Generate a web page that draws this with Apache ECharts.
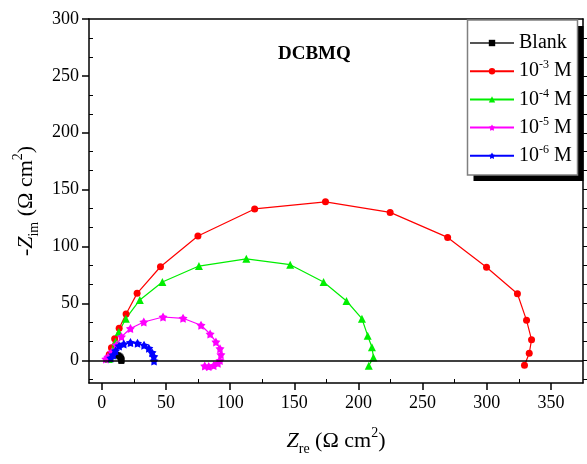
<!DOCTYPE html>
<html>
<head>
<meta charset="utf-8">
<script src="https://cdn.jsdelivr.net/npm/echarts@6/dist/echarts.min.js"></script>
<style>html,body{margin:0;padding:0;background:#fff}#c{width:587px;height:464px}</style>
</head>
<body>
<div id="c"></div>
<script>
// ---- data (Zre, -Zim) in ohm cm^2 ----
const seriesNames = ['Blank', '10-3 M', '10-4 M', '10-5 M', '10-6 M'];
const blankData = [[5,0.5],[5.5,1.5],[6.3,2.5],[7.3,3.5],[8.6,4.2],[10,4.6],[11.5,4.6],[12.8,4.2],[13.8,3.4],[14.6,2.4],[15.1,1.2],[15.3,0.2],[15.2,-0.6]];
const m3Data = [[5,1],[5.8,5],[7.5,11],[10,19],[13.5,28.1],[18.9,40.7],[27.5,58.8],[45.7,82.2],[74.9,109.2],[119.1,133],[174.3,139.3],[224.7,130],[269.5,108],[299.8,81.7],[323.9,58.5],[331,35.1],[334.9,18.1],[333.1,6.1],[329.4,-4.4]];
const m4Data = [[5.5,1],[6.8,4.5],[8.5,9.5],[10.7,16.3],[13.2,24.9],[18.7,36.5],[29.6,53],[47.2,68.8],[75.7,82.8],[112.6,89.2],[146.8,84],[172.8,68.8],[190.7,52.1],[202.7,36.5],[207.2,21.6],[210.5,11.4],[211.7,2.5],[208,-4.8]];
const m5Data = [[3.1,1.1],[4.7,2.9],[7.8,7.3],[11.4,13.4],[15.3,20.7],[22.3,27.9],[32.7,33.6],[47.7,38],[63.3,36.9],[77.3,30.8],[84.4,23.1],[88.9,16.1],[92.1,10.2],[92.8,4.9],[92.1,-0.2],[90.5,-2.6],[87.2,-4.6],[83.3,-5.4],[80.2,-5]];
const m6Data = [[7,2],[8.8,4.7],[10.7,8.4],[13.5,12.6],[17.1,14.3],[22.3,15.5],[27.8,14.9],[32.9,13.2],[36.6,10.5],[39.1,6.7],[40.5,3.2],[40.7,-0.6]];
// ---- ticks ----
const xMajor = [0,50,100,150,200,250,300,350];
const xMinor = [25,75,125,175,225,275,325];
const yMajor = [0,50,100,150,200,250,300];
const yMinor = [-16.67,16.67,33.33,66.67,83.33,116.67,133.33,166.67,183.33,216.67,233.33,266.67,283.33];
const yRight = [-16.67,0,16.67,33.33,50,66.67,83.33,100,116.67,133.33,150,166.67,183.33,200,216.67,233.33,250,266.67,283.33];

const SERIF = '"Liberation Serif","Times New Roman",serif';
const STAR = 'path://M0,-10L3.3,-4.5L9.5,-3.1L5.3,1.7L5.9,8.1L0,5.6L-5.9,8.1L-5.3,1.7L-9.5,-3.1L-3.3,-4.5Z';
const chart = echarts.init(document.getElementById('c'), null, {renderer:'canvas'});

function mk(name, data, color, symbol, size, lineColor){
  return {
    name, type:'line', data, xAxisIndex:0, yAxisIndex:0,
    symbol, symbolSize:size, showSymbol:true,
    itemStyle:{color}, lineStyle:{color:lineColor||color, width:1.2},
    animation:false, silent:true, z:3
  };
}
const series = [
  mk(seriesNames[0], blankData, '#000', 'rect', 6, '#555'),
  mk(seriesNames[1], m3Data, '#ff0000', 'circle', 7),
  mk(seriesNames[2], m4Data, '#00ee00', 'triangle', 8),
  mk(seriesNames[3], m5Data, '#ff00ff', STAR, 9),
  mk(seriesNames[4], m6Data, '#0000ff', STAR, 9)
];
series[0].markLine = {silent:true, symbol:['none','none'], label:{show:false},
  lineStyle:{color:'#000', width:1.5, type:'solid'}, data:[{yAxis:0}], animation:false};

const axLine = {show:true, onZero:false, lineStyle:{color:'#000', width:1.5}};
const noLine = {show:false, onZero:false};
const rich = {
  n:{fontFamily:SERIF, fontSize:22, color:'#000', lineHeight:30},
  i:{fontFamily:SERIF, fontSize:22, fontStyle:'italic', color:'#000', lineHeight:30},
  sub:{fontFamily:SERIF, fontSize:14, color:'#000', verticalAlign:'bottom', lineHeight:14},
  sup:{fontFamily:SERIF, fontSize:14, color:'#000', verticalAlign:'top', lineHeight:14}
};
const legRich = {
  n:{fontFamily:SERIF, fontSize:20, color:'#000', lineHeight:24},
  sup:{fontFamily:SERIF, fontSize:12, color:'#000', verticalAlign:'top', lineHeight:12}
};

chart.setOption({
  backgroundColor:'#fff',
  animation:false,
  grid:{left:89, top:19, right:4, bottom:81, containLabel:false},
  title:{text:'DCBMQ', left:273, top:40, textStyle:{fontFamily:SERIF, fontSize:19, fontWeight:'bold', color:'#000'}},
  graphic:[
    {type:'rect', z:50, shape:{x:473.5, y:26, width:110, height:155}, style:{fill:'#000'}, silent:true},
    {type:'rect', z:51, shape:{x:467.5, y:20, width:110, height:155}, style:{fill:'#fff', stroke:'#808080', lineWidth:1.5}, silent:true}
  ],
  legend:{
    z:60,
    orient:'vertical', left:467, top:20, padding:[13,6,9,2], itemGap:6.2,
    itemWidth:44, itemHeight:8,
    data:seriesNames,
    formatter:function(name){
      if(name==='Blank') return '{n|Blank}';
      const p = name.split(' ')[0];
      return '{n|10}{sup|' + p.slice(2) + '}{n| M}';
    },
    textStyle:{fontFamily:SERIF, fontSize:20, color:'#000', rich:legRich}
  },
  xAxis:[
    {type:'value', position:'bottom', min:-10, max:375, axisLine:axLine,
     axisTick:{show:true, inside:false, length:7, customValues:xMajor, lineStyle:{color:'#000', width:1.5}},
     axisLabel:{show:true, customValues:xMajor, margin:11, fontFamily:SERIF, fontSize:18, color:'#000'},
     splitLine:{show:false},
     name:'{i|Z}{sub|re}{n| (Ω cm}{sup|2}{n|)}', nameLocation:'middle', nameGap:43,
     nameTextStyle:{rich}},
    {type:'value', position:'bottom', min:-10, max:375, axisLine:noLine,
     axisTick:{show:true, inside:true, length:4, customValues:xMinor, lineStyle:{color:'#000', width:1}},
     axisLabel:{show:false}, splitLine:{show:false}},
    {type:'value', position:'top', min:-10, max:375, axisLine:axLine,
     axisTick:{show:false}, axisLabel:{show:false}, splitLine:{show:false}}
  ],
  yAxis:[
    {type:'value', position:'left', min:-20, max:300, axisLine:axLine,
     axisTick:{show:true, inside:false, length:7, customValues:yMajor, lineStyle:{color:'#000', width:1.5}},
     axisLabel:{show:true, customValues:yMajor, margin:10, fontFamily:SERIF, fontSize:18, color:'#000'},
     splitLine:{show:false},
     name:'{n|-}{i|Z}{sub|im}{n| (Ω cm}{sup|2}{n|)}', nameLocation:'middle', nameGap:37, nameRotate:90,
     nameTextStyle:{rich}},
    {type:'value', position:'left', min:-20, max:300, axisLine:noLine,
     axisTick:{show:true, inside:true, length:4, customValues:yMinor, lineStyle:{color:'#000', width:1}},
     axisLabel:{show:false}, splitLine:{show:false}},
    {type:'value', position:'right', min:-20, max:300, axisLine:axLine,
     axisTick:{show:true, inside:false, length:4, customValues:yRight, lineStyle:{color:'#000', width:1}},
     axisLabel:{show:false}, splitLine:{show:false}}
  ],
  series
});
</script>
</body>
</html>
